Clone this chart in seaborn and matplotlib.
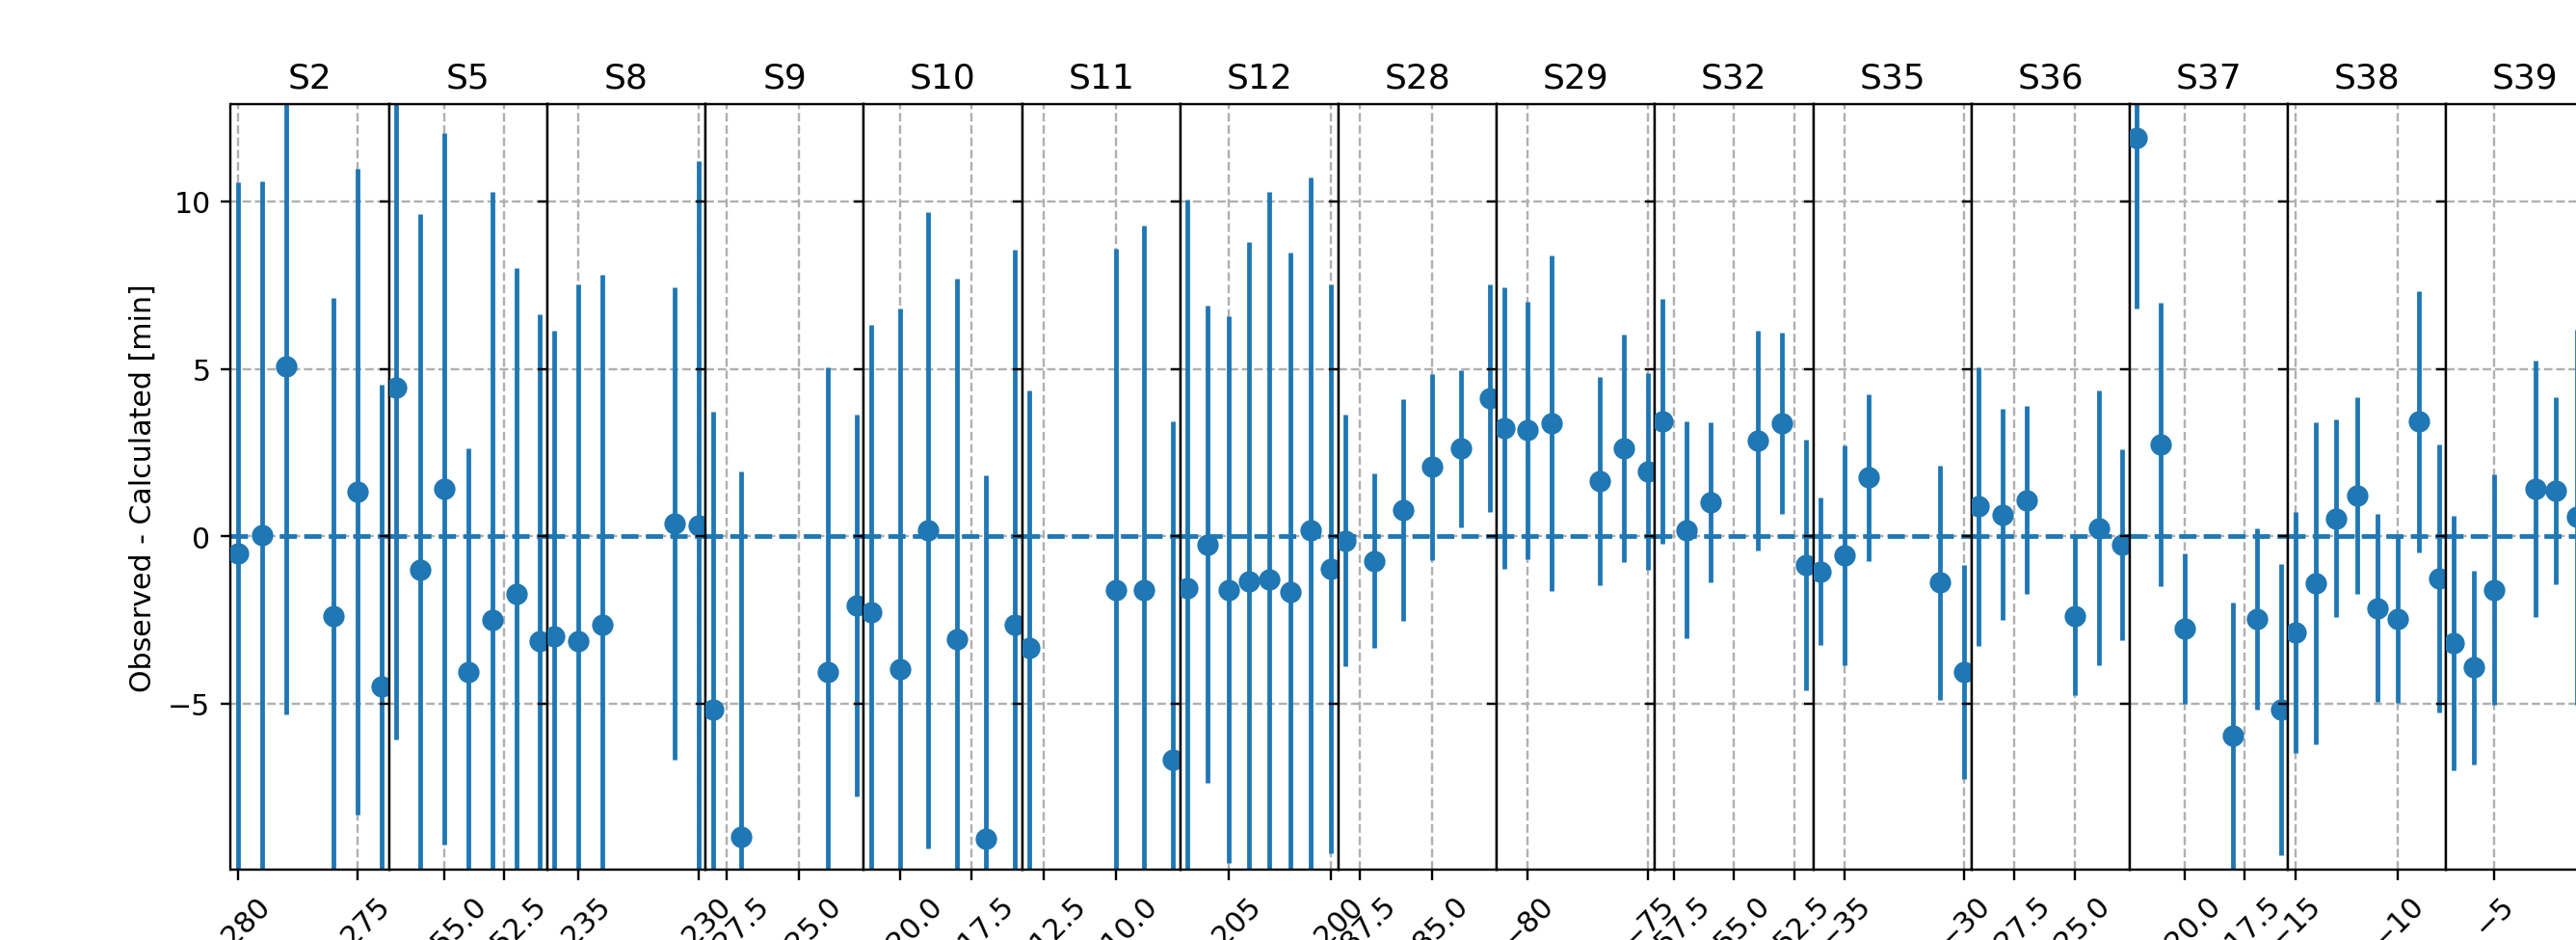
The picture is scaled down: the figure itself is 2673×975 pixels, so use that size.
import matplotlib
matplotlib.use("Agg")
import matplotlib.pyplot as plt
from matplotlib.ticker import MaxNLocator
import seaborn as sns

# ---------------- data ----------------
sectors = ["S2", "S5", "S8", "S9", "S10", "S11", "S12", "S28", "S29",
           "S32", "S35", "S36", "S37", "S38", "S39"]

epochs = [
    [-280, -279, -278, -276, -275, -274],
    [-257, -256, -255, -254, -253, -252, -251],
    [-236, -235, -234, -231, -230],
    [-228, -227, -224, -223],
    [-221, -220, -219, -218, -217, -216],
    [-213, -210, -209, -208],
    [-207, -206, -205, -204, -203, -202, -201, -200],
    [-88, -87, -86, -85, -84, -83],
    [-81, -80, -79, -77, -76, -75],
    [-58, -57, -56, -54, -53, -52],
    [-36, -35, -34, -31, -30],
    [-29, -28, -27, -25, -24, -23],
    [-22, -21, -20, -18, -17, -16],
    [-15, -14, -13, -12, -11, -10, -9, -8],
    [-7, -6, -5, -3, -2, -1],
]

oc = [
    [-0.52, 0.05, 5.06, -2.39, 1.33, -4.48],
    [4.43, -1.00, 1.41, -4.05, -2.51, -1.73, -3.12],
    [-2.99, -3.12, -2.64, 0.37, 0.32],
    [-5.18, -8.98, -4.05, -2.07],
    [-2.27, -3.96, 0.19, -3.07, -9.03, -2.64],
    [-3.32, -1.59, -1.59, -6.67],
    [-1.54, -0.24, -1.59, -1.34, -1.29, -1.65, 0.19, -0.97],
    [-0.13, -0.73, 0.78, 2.07, 2.62, 4.13],
    [3.24, 3.16, 3.37, 1.65, 2.62, 1.94],
    [3.43, 0.19, 1.02, 2.86, 3.37, -0.86],
    [-1.05, -0.57, 1.75, -1.38, -4.05],
    [0.89, 0.65, 1.08, -2.39, 0.24, -0.24],
    [11.89, 2.75, -2.75, -5.94, -2.46, -5.18],
    [-2.88, -1.41, 0.53, 1.21, -2.14, -2.46, 3.43, -1.26],
    [-3.20, -3.92, -1.59, 1.41, 1.36, 0.57],
]

oc_err = [
    [11.10, 10.55, 10.37, 9.50, 9.65, 9.00],
    [10.50, 10.63, 10.62, 6.69, 12.78, 9.74, 9.75],
    [9.14, 10.64, 10.44, 7.05, 10.88],
    [8.90, 10.92, 9.10, 5.70],
    [8.58, 10.76, 9.50, 10.76, 10.86, 11.20],
    [7.66, 10.17, 10.86, 10.10],
    [11.60, 7.12, 8.15, 10.13, 11.56, 10.11, 10.52, 8.50],
    [3.76, 2.60, 3.30, 2.77, 2.35, 3.40],
    [4.20, 3.85, 5.00, 3.10, 3.40, 2.93],
    [3.65, 3.24, 2.38, 3.27, 2.70, 3.74],
    [2.20, 3.27, 2.50, 3.50, 3.20],
    [4.15, 3.15, 2.80, 2.36, 4.10, 2.85],
    [5.10, 4.23, 2.25, 3.97, 2.70, 4.35],
    [3.60, 4.80, 2.95, 2.93, 2.80, 2.50, 3.90, 4.00],
    [3.80, 2.90, 3.45, 3.83, 2.80, 5.60],
]

y_label = "Observed - Calculated [min]"

# ---------------- figure ----------------
W, H, DPI = 2673, 976, 216
fig = plt.figure(figsize=(W / DPI, H / DPI), dpi=DPI)
color = sns.color_palette("tab10")[0]

left0, panel_w = 239.5, 164.2
ax_top, ax_bottom = 109, 903

axes = []
for i, name in enumerate(sectors):
    rect = [(left0 + i * panel_w) / W, (H - ax_bottom) / H,
            panel_w / W, (ax_bottom - ax_top) / H]
    ax = fig.add_axes(rect, sharey=axes[0] if axes else None)
    ax.errorbar(epochs[i], oc[i], yerr=oc_err[i], fmt="none",
                ecolor=color, elinewidth=1.6, zorder=2)
    sns.scatterplot(x=epochs[i], y=oc[i], ax=ax, color=color, s=55,
                    linewidth=0, zorder=3, legend=False)
    ax.axhline(0, ls="--", color=color, lw=1.6, zorder=2.5)
    ax.set_title(name, fontsize=12)
    ax.grid(True, ls="--")
    ax.xaxis.set_major_locator(MaxNLocator(nbins=2, steps=[1, 2, 2.5, 5, 10]))
    ax.tick_params(axis="x", labelrotation=45)
    if i > 0:
        ax.tick_params(axis="y", labelleft=False)
    for s in ax.spines.values():
        s.set_color("black")
    axes.append(ax)

axes[-1].set_xlim(-7.35, 0.35)
axes[0].set_ylim(-9.95, 12.9)
axes[0].set_ylabel(y_label)

fig.savefig("out.png", dpi=DPI)
